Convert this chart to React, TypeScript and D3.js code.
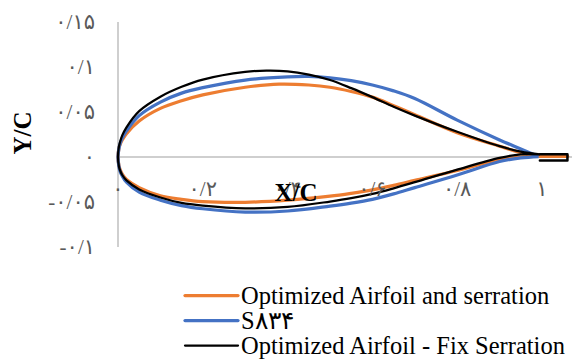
import React from "react";
import * as d3 from "d3";

type P = [number, number];

// Optimized Airfoil and serration (orange)
const orangeUpper: P[] = [
  [0, 0], [0.002, 0.009], [0.005, 0.014], [0.01, 0.019], [0.02, 0.026], [0.05, 0.040],
  [0.1, 0.054], [0.15, 0.0625], [0.2, 0.069], [0.3, 0.0775], [0.38, 0.081], [0.45, 0.0800],
  [0.5, 0.0775], [0.55, 0.0728], [0.6, 0.0665], [0.65, 0.057], [0.7, 0.047], [0.8, 0.027],
  [0.9, 0.012], [0.95, 0.005], [0.995, 0.001],
];
const orangeLower: P[] = [
  [0, 0], [0.002, -0.009], [0.005, -0.014], [0.01, -0.019], [0.02, -0.025], [0.05, -0.034],
  [0.1, -0.043], [0.15, -0.047], [0.2, -0.0495], [0.3, -0.0503], [0.4, -0.048], [0.5, -0.0435],
  [0.55, -0.0403], [0.6, -0.0365], [0.65, -0.0315], [0.7, -0.026], [0.8, -0.015], [0.9, -0.003],
  [0.95, 0.0], [0.995, 0.001],
];
const orangeSerration: P[] = [[0.995, 0.0008], [1.06, 0.0008]];

// S834 (blue)
const blueUpper: P[] = [
  [0, 0], [0.002, 0.009], [0.005, 0.015], [0.01, 0.021], [0.02, 0.029], [0.05, 0.046],
  [0.1, 0.061], [0.15, 0.071], [0.2, 0.077], [0.3, 0.0855], [0.4, 0.089], [0.45, 0.0895],
  [0.5, 0.088], [0.55, 0.0848], [0.6, 0.080], [0.65, 0.0735], [0.7, 0.065], [0.8, 0.041],
  [0.9, 0.019], [0.95, 0.009], [0.992, 0.0005],
];
const blueLower: P[] = [
  [0, 0], [0.002, -0.010], [0.005, -0.016], [0.01, -0.021], [0.02, -0.028], [0.05, -0.039],
  [0.1, -0.048], [0.15, -0.054], [0.2, -0.0575], [0.3, -0.0612], [0.4, -0.060], [0.5, -0.0545],
  [0.55, -0.0512], [0.6, -0.047], [0.65, -0.041], [0.7, -0.034], [0.8, -0.020], [0.9, -0.005],
  [0.95, -0.001], [0.992, 0.0005],
];

// Optimized Airfoil - Fix Serration (black)
const blackUpper: P[] = [
  [0, 0], [0.002, 0.011], [0.005, 0.017], [0.01, 0.024], [0.02, 0.033], [0.05, 0.051],
  [0.1, 0.067], [0.15, 0.078], [0.2, 0.086], [0.3, 0.0945], [0.35, 0.096], [0.4, 0.0952],
  [0.45, 0.0915], [0.5, 0.0855], [0.55, 0.0765], [0.6, 0.0665], [0.65, 0.0558], [0.7, 0.046],
  [0.8, 0.028], [0.9, 0.012], [0.95, 0.006], [0.995, 0.003],
];
const blackLower: P[] = [
  [0, 0], [0.002, -0.010], [0.005, -0.015], [0.01, -0.020], [0.02, -0.026], [0.05, -0.036],
  [0.1, -0.045], [0.15, -0.051], [0.2, -0.054], [0.3, -0.057], [0.4, -0.0555], [0.5, -0.0495],
  [0.55, -0.0458], [0.6, -0.041], [0.65, -0.0348], [0.7, -0.028], [0.8, -0.014], [0.9, -0.001],
  [0.95, 0.003], [0.995, 0.003],
];
const blackSerration: P[] = [[0.995, 0.003], [1.06, 0.003], [1.06, -0.004], [0.995, -0.004]];

const xTickValues = [0, 0.2, 0.4, 0.6, 0.8, 1];
const xTickLabels = ["۰", "۰/۲", "۰/۴", "۰/۶", "۰/۸", "۱"];
const yTickValues = [0.15, 0.1, 0.05, 0, -0.05, -0.1];
const yTickLabels = ["۰/۱۵", "۰/۱", "۰/۰۵", "۰", "-۰/۰۵", "-۰/۱"];

const legendLabels = ["Optimized Airfoil and serration", "S۸۳۴", "Optimized Airfoil - Fix Serration"];
const seriesColors = ["#ED7D31", "#4472C4", "#000000"];
const seriesWidths = [3.25, 3.25, 2.25];

export default function App() {
  const W = 575;
  const H = 360;
  const x = d3.scaleLinear().domain([0, 1]).range([118, 542]);
  const y = d3.scaleLinear().domain([-0.1, 0.15]).range([247, 22]);

  const smooth = d3
    .line<P>()
    .x((d) => x(d[0]))
    .y((d) => y(d[1]))
    .curve(d3.curveCatmullRom.alpha(0.5));
  const straight = d3
    .line<P>()
    .x((d) => x(d[0]))
    .y((d) => y(d[1]));

  const body = (u: P[], l: P[]) => smooth([...u.slice().reverse(), ...l.slice(1)]) || "";

  const tickFont = "'Liberation Serif', 'DejaVu Sans', serif";
  const serif = "'Liberation Serif', 'Times New Roman', serif";

  return (
    <svg
      width={W}
      height={H}
      viewBox={`0 0 ${W} ${H}`}
      style={{ position: "absolute", left: 0, top: 0, background: "#fff" }}
    >
      <rect x={0} y={0} width={W} height={H} fill="#fff" />
      {/* axes */}
      <line x1={x(0)} x2={x(0)} y1={y(0.15)} y2={y(-0.1)} stroke="#BFBFBF" strokeWidth={1.5} />
      <line x1={x(0)} x2={572} y1={y(0)} y2={y(0)} stroke="#BFBFBF" strokeWidth={1.5} />

      {/* orange */}
      <path d={body(orangeUpper, orangeLower)} fill="none" stroke={seriesColors[0]} strokeWidth={seriesWidths[0]} strokeLinejoin="round" />
      <path d={straight(orangeSerration) || ""} fill="none" stroke={seriesColors[0]} strokeWidth={3.5} strokeLinecap="round" />
      {/* blue */}
      <path d={body(blueUpper, blueLower)} fill="none" stroke={seriesColors[1]} strokeWidth={seriesWidths[1]} strokeLinejoin="round" />
      {/* black */}
      <path d={body(blackUpper, blackLower)} fill="none" stroke={seriesColors[2]} strokeWidth={seriesWidths[2]} strokeLinejoin="round" />
      <path d={straight(blackSerration) || ""} fill="none" stroke={seriesColors[2]} strokeWidth={2.5} strokeLinejoin="round" strokeLinecap="round" />

      {/* y tick labels */}
      {yTickValues.map((v, i) => (
        <text
          key={"y" + i}
          x={95}
          y={y(v)}
          textAnchor="end"
          dominantBaseline="central"
          fontFamily={tickFont}
          fontSize={21}
          fill="#595959"
          direction="ltr"
        >
          {yTickLabels[i]}
        </text>
      ))}
      {/* x tick labels */}
      {xTickValues.map((v, i) => (
        <text
          key={"x" + i}
          x={x(v)}
          y={189}
          textAnchor="middle"
          dominantBaseline="central"
          fontFamily={tickFont}
          fontSize={21}
          fill="#595959"
          direction="ltr"
        >
          {xTickLabels[i]}
        </text>
      ))}

      {/* axis titles */}
      <text x={296} y={201} textAnchor="middle" fontFamily={serif} fontWeight="bold" fontSize={25} fill="#000">
        X/C
      </text>
      <text
        transform="translate(31,133) rotate(-90)"
        textAnchor="middle"
        fontFamily={serif}
        fontWeight="bold"
        fontSize={25}
        fill="#000"
      >
        Y/C
      </text>

      {/* legend */}
      {legendLabels.map((lab, i) => {
        const ly = 295.5 + i * 25;
        return (
          <g key={"l" + i}>
            <line x1={185} x2={238} y1={ly} y2={ly} stroke={seriesColors[i]} strokeWidth={seriesWidths[i]} strokeLinecap="round" />
            <text x={241} y={ly + 8} fontFamily={serif} fontSize={24.5} fill="#000" direction="ltr">
              {lab}
            </text>
          </g>
        );
      })}
    </svg>
  );
}
